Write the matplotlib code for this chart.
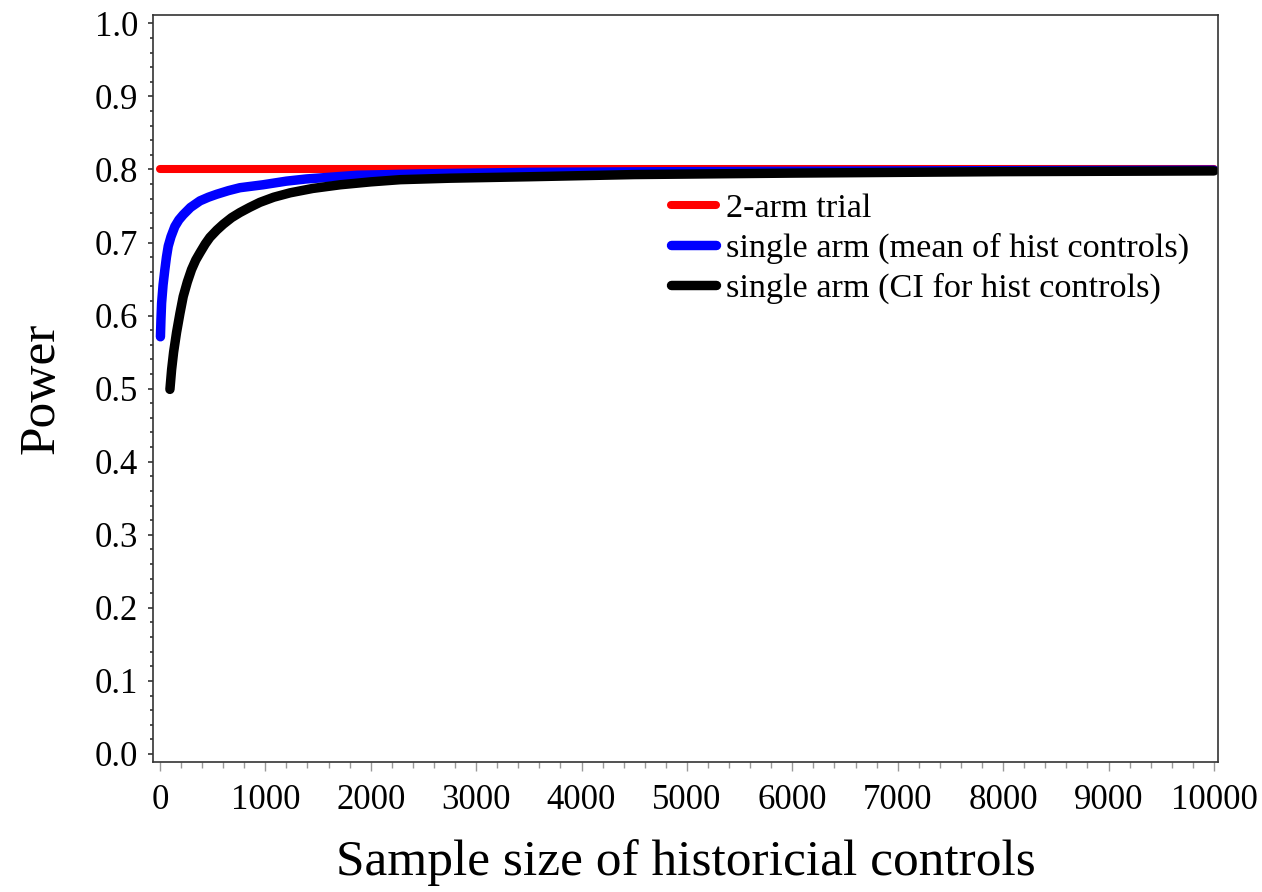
import numpy as np
import matplotlib.pyplot as plt
from matplotlib.ticker import MultipleLocator, FormatStrFormatter

# data
n_two_arm = [0, 10000]
power_two_arm = [0.80, 0.80]

n_mean = [5, 10, 16, 30, 47, 62, 79, 105, 142, 180, 221, 290, 380, 460, 538,
          650, 759, 977, 1200, 1390, 1870, 2500, 3500, 5000, 7000, 10000]
power_mean = [0.571, 0.595, 0.617, 0.642, 0.663, 0.680, 0.695, 0.708, 0.722,
              0.731, 0.738, 0.748, 0.757, 0.762, 0.766, 0.771, 0.775, 0.779,
              0.784, 0.787, 0.792, 0.794, 0.796, 0.797, 0.798, 0.799]

n_ci = [95, 111, 130, 158, 190, 221, 260, 300, 340, 380, 430, 474, 540, 601,
        680, 759, 850, 949, 1080, 1235, 1450, 1710, 2000, 2280, 2750, 3500,
        4500, 6000, 8000, 10000]
power_ci = [0.499, 0.526, 0.550, 0.577, 0.603, 0.626, 0.646, 0.663, 0.676,
            0.686, 0.698, 0.707, 0.717, 0.725, 0.734, 0.741, 0.748, 0.755,
            0.762, 0.768, 0.774, 0.779, 0.783, 0.786, 0.788, 0.790, 0.793,
            0.795, 0.797, 0.798]

labels = ['2-arm trial', 'single arm (mean of hist controls)',
          'single arm (CI for hist controls)']

plt.rcParams['font.family'] = ['Liberation Serif', 'DejaVu Serif']

fig = plt.figure(figsize=(12.62, 8.92), dpi=100)
ax = fig.add_axes([0.1212, 0.1457, 0.8439, 0.838])

lw = 6.8
ax.plot(n_two_arm, power_two_arm, color='#ff0000', lw=lw - 1,
        solid_capstyle='round', label=labels[0])
ax.plot(n_mean, power_mean, color='#0000ff', lw=lw,
        solid_capstyle='round', solid_joinstyle='round', label=labels[1])
ax.plot(n_ci, power_ci, color='black', lw=lw,
        solid_capstyle='round', solid_joinstyle='round', label=labels[2])

ax.set_xlim(-66, 10038)
ax.set_ylim(-0.011, 1.012)
ax.xaxis.set_major_locator(MultipleLocator(1000))
ax.xaxis.set_minor_locator(MultipleLocator(200))
ax.yaxis.set_major_locator(MultipleLocator(0.1))
ax.yaxis.set_minor_locator(MultipleLocator(0.02))
ax.yaxis.set_major_formatter(FormatStrFormatter('%.1f'))

ax.tick_params(axis='x', which='major', length=6.5, width=1, color='#999999',
               labelsize=25, pad=9)
ax.tick_params(axis='x', which='minor', length=4.3, width=1, color='#999999')
ax.tick_params(axis='y', which='major', length=3.6, width=1.2, color='#333333',
               labelsize=25, pad=7)
ax.tick_params(axis='y', which='minor', length=2.2, width=1.2, color='#333333')

for s in ax.spines.values():
    s.set_color('#333333')
    s.set_linewidth(1.2)

ax.set_xlabel('Sample size of historicial controls', fontsize=37, labelpad=16)
ax.set_ylabel('Power', fontsize=37, labelpad=22)

leg = ax.legend(loc='upper left', bbox_to_anchor=(0.474, 0.78), frameon=False,
                fontsize=24.7, handlelength=1.3, handletextpad=0.3,
                labelspacing=0.26, borderaxespad=0)

fig.savefig('out.png', dpi=100)
